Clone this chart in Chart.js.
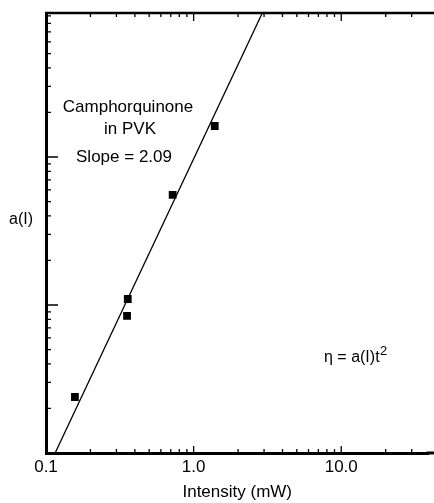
<!DOCTYPE html>
<html>
<head>
<meta charset="utf-8">
<script src="https://cdn.jsdelivr.net/npm/chart.js@4.4.1/dist/chart.umd.min.js"></script>
<style>
  html, body { margin: 0; padding: 0; background: #fff; }
  #wrap { width: 434px; height: 503px; }
</style>
</head>
<body>
<div id="wrap"><canvas id="c" width="434" height="503"></canvas></div>
<script>
// ---- data ----
const intensity = [0.157, 0.358, 0.354, 0.721, 1.39];   // mW
const aValues   = [0.239, 1.098, 0.843, 5.54, 16.2];    // a(I), arbitrary units
const fitIntensity = [0.1153, 2.92];                    // fitted line end points (slope 2.09)
const fitA         = [0.1, 94];
const xTickValues = [0.1, 1, 10];
const xTickLabels = ['0.1', '1.0', '10.0'];
const minorMultipliers = [1, 2, 3, 4, 5, 6, 7, 8, 9];
const logDecades = [0.01, 0.1, 1, 10, 100];
const annotationLines = ['Camphorquinone', 'in PVK', 'Slope = 2.09'];
const formulaText = 'η = a(I)t';
const formulaExponent = '2';
const yTitle = 'a(I)';
const xTitle = 'Intensity (mW)';

const FONT = '"Liberation Sans", Arial, Helvetica, sans-serif';

const framePlugin = {
  id: 'frame',
  afterDraw(chart) {
    const {ctx, chartArea: a, scales: {x, y}} = chart;
    ctx.save();
    ctx.strokeStyle = '#000';
    // top border and continuation of bottom border to the edge
    ctx.lineWidth = 2.5;
    ctx.beginPath();
    ctx.moveTo(a.left - 1, a.top);
    ctx.lineTo(chart.width, a.top);
    ctx.stroke();
    ctx.lineWidth = 3;
    ctx.beginPath();
    ctx.moveTo(a.right - 2, a.bottom);
    ctx.lineTo(chart.width, a.bottom);
    ctx.stroke();
    // inward ticks
    ctx.lineWidth = 1.3;
    ctx.beginPath();
    logDecades.forEach(d => {
      minorMultipliers.forEach(m => {
        const v = d * m;
        if (v >= x.min && v <= x.max) {
          const px = x.getPixelForValue(v);
          const major = m === 1;
          ctx.moveTo(px, a.bottom); ctx.lineTo(px, a.bottom - (major ? 7 : 4));
          ctx.moveTo(px, a.top); ctx.lineTo(px, a.top + (major ? 8 : 4));
        }
        if (v >= y.min && v <= y.max) {
          const py = y.getPixelForValue(v);
          const major = m === 1;
          ctx.moveTo(a.left, py); ctx.lineTo(a.left + (major ? 12 : 5), py);
        }
      });
    });
    ctx.stroke();
    // text annotations
    ctx.fillStyle = '#000';
    ctx.textAlign = 'center';
    ctx.textBaseline = 'alphabetic';
    ctx.font = '17px ' + FONT;
    ctx.fillText(annotationLines[0], 128, 112);
    ctx.fillText(annotationLines[1], 130, 134);
    ctx.fillText(annotationLines[2], 124, 162);
    ctx.font = '16px ' + FONT;
    ctx.textAlign = 'left';
    ctx.fillText(formulaText, 324, 362);
    const w = ctx.measureText(formulaText).width;
    ctx.font = '13px ' + FONT;
    ctx.fillText(formulaExponent, 324 + w + 0.5, 355);
    ctx.font = '16px ' + FONT;
    ctx.textAlign = 'center';
    ctx.fillText(yTitle, 21, 224);
    ctx.restore();
  }
};

new Chart(document.getElementById('c'), {
  type: 'scatter',
  data: {
    datasets: [
      {
        type: 'line',
        data: fitIntensity.map((v, i) => ({x: v, y: fitA[i]})),
        borderColor: '#000',
        borderWidth: 1.3,
        pointRadius: 0,
        fill: false,
        tension: 0
      },
      {
        data: intensity.map((v, i) => ({x: v, y: aValues[i]})),
        backgroundColor: '#000',
        borderColor: '#000',
        pointStyle: 'rect',
        pointRadius: 5.5,
        pointHoverRadius: 5.5,
        borderWidth: 0
      }
    ]
  },
  options: {
    responsive: false,
    animation: false,
    events: [],
    layout: { padding: { top: 13, right: 0, left: 0, bottom: 0 } },
    plugins: { legend: { display: false }, tooltip: { enabled: false } },
    scales: {
      x: {
        type: 'logarithmic',
        min: 0.1,
        max: 39,
        afterFit(s) { s.height = 50; s.paddingLeft = 0; s.paddingRight = 0; },
        afterBuildTicks(s) { s.ticks = xTickValues.map(v => ({value: v})); },
        ticks: {
          color: '#000',
          padding: 4,
          maxRotation: 0,
          autoSkip: false,
          font: { size: 17, family: FONT },
          callback(v) { const i = xTickValues.indexOf(v); return i >= 0 ? xTickLabels[i] : ''; }
        },
        grid: { display: true, drawOnChartArea: false, drawTicks: false },
        border: { display: true, color: '#000', width: 3 },
        title: {
          display: true,
          text: xTitle,
          color: '#000',
          font: { size: 17, family: FONT },
          padding: { top: 0, bottom: 0 }
        }
      },
      y: {
        type: 'logarithmic',
        min: 0.1,
        max: 94,
        afterFit(s) { s.width = 46; },
        ticks: { display: false },
        grid: { display: true, drawOnChartArea: false, drawTicks: false },
        border: { display: true, color: '#000', width: 3 }
      }
    }
  },
  plugins: [framePlugin]
});
</script>
</body>
</html>
